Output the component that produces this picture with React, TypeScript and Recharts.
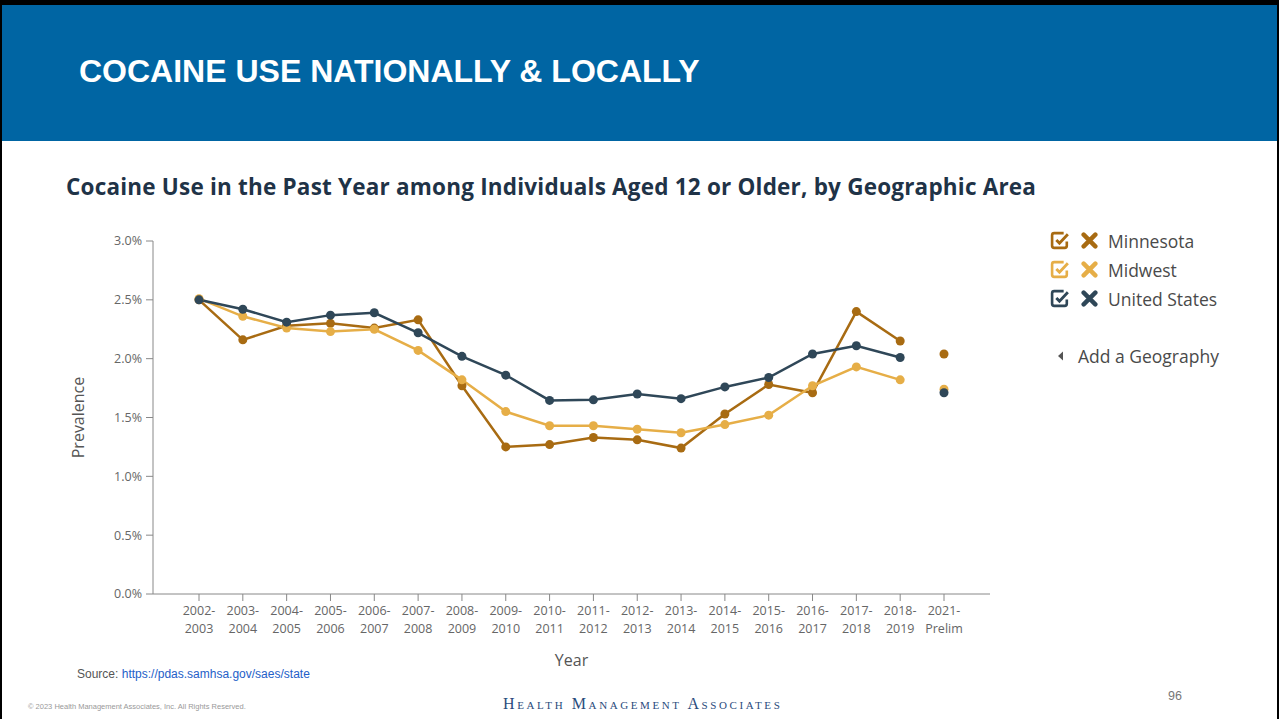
import React from "react";
import { LineChart, Line, XAxis, YAxis } from "recharts";

// survey periods on the x axis
const years = [
  "2002-2003", "2003-2004", "2004-2005", "2005-2006", "2006-2007", "2007-2008",
  "2008-2009", "2009-2010", "2010-2011", "2011-2012", "2012-2013", "2013-2014",
  "2014-2015", "2015-2016", "2016-2017", "2017-2018", "2018-2019", "2021-Prelim",
];

// annual prevalence (%) 2002-2003 .. 2018-2019
const minnesota = [2.5, 2.16, 2.28, 2.3, 2.26, 2.33, 1.77, 1.25, 1.27, 1.33, 1.31, 1.24, 1.53, 1.78, 1.71, 2.4, 2.15];
const midwest = [2.51, 2.36, 2.26, 2.23, 2.25, 2.07, 1.82, 1.55, 1.43, 1.43, 1.4, 1.37, 1.44, 1.52, 1.77, 1.93, 1.82];
const unitedStates = [2.5, 2.42, 2.31, 2.37, 2.39, 2.22, 2.02, 1.86, 1.645, 1.65, 1.7, 1.66, 1.76, 1.84, 2.04, 2.11, 2.01];

// 2021 preliminary estimates, not joined to the trend line
const prelimMinnesota = 2.04;
const prelimMidwest = 1.74;
const prelimUnitedStates = 1.71;

const yTicks = [0, 0.5, 1, 1.5, 2, 2.5, 3];

const MN = "#a86b12";
const MW = "#e6ae47";
const US = "#2f4758";

const last = years.length - 1;
const data = years.map((year, i) => ({
  year,
  mn: minnesota[i] ?? null,
  mw: midwest[i] ?? null,
  us: unitedStates[i] ?? null,
  mnP: i === last ? prelimMinnesota : null,
  mwP: i === last ? prelimMidwest : null,
  usP: i === last ? prelimUnitedStates : null,
}));

const FONT = "'Open Sans', sans-serif";

function XTick({ x, y, payload }: any) {
  const v: string = payload.value;
  const i = v.indexOf("-");
  return (
    <text x={x} textAnchor="middle" fill="#666" fontSize={12.5} fontFamily={FONT}>
      <tspan x={x} y={y + 12}>{v.slice(0, i + 1)}</tspan>
      <tspan x={x} y={y + 30}>{v.slice(i + 1)}</tspan>
    </text>
  );
}

function Box({ color }: { color: string }) {
  return (
    <svg width={21} height={19} viewBox="0 0 20 18" style={{ marginRight: 10 }}>
      <path d="M13 2 H4 Q2 2 2 4 V14 Q2 16 4 16 H14 Q16 16 16 14 V10" fill="none" stroke={color} strokeWidth={2.5} />
      <path d="M6 8.5 L9 11.5 L17 3" fill="none" stroke={color} strokeWidth={2.7} />
    </svg>
  );
}

function Cross({ color }: { color: string }) {
  return (
    <svg width={17} height={17} viewBox="0 0 16 16" style={{ marginRight: 10 }}>
      <path d="M2.5 2.5 L13.5 13.5 M13.5 2.5 L2.5 13.5" stroke={color} strokeWidth={4.2} strokeLinecap="round" />
    </svg>
  );
}

const legendItems = [
  { name: "Minnesota", color: MN },
  { name: "Midwest", color: MW },
  { name: "United States", color: US },
];

function LegendBox() {
  return (
    <div style={{ fontFamily: FONT, fontSize: 17.5, color: "#4a4a4a" }}>
      {legendItems.map((it) => (
        <div key={it.name} style={{ display: "flex", alignItems: "center", height: 29 }}>
          <Box color={it.color} />
          <Cross color={it.color} />
          <span>{it.name}</span>
        </div>
      ))}
      <div style={{ display: "flex", alignItems: "center", height: 29, marginTop: 28 }}>
        <svg width={10} height={12} viewBox="0 0 10 12" style={{ marginLeft: 6, marginRight: 12 }}>
          <path d="M7 1.5 L2 6 L7 10.5 Z" fill="#555" />
        </svg>
        <span>Add a Geography</span>
      </div>
    </div>
  );
}

export default function App() {
  return (
    <div
      style={{
        position: "absolute",
        left: 0,
        top: 0,
        width: 1279,
        height: 719,
        background: "#fff",
        overflow: "hidden",
        boxSizing: "border-box",
        borderTop: "5px solid #000",
        borderLeft: "2px solid #000",
        borderRight: "2px solid #000",
      }}
    >
      <div
        style={{
          position: "absolute",
          left: 0,
          top: 0,
          right: 0,
          height: 136,
          background: "#0065a3",
        }}
      >
        <div
          style={{
            position: "absolute",
            left: 77,
            top: 48,
            color: "#fff",
            fontFamily: "'Liberation Sans', Arial, sans-serif",
            fontWeight: 700,
            fontSize: 32,
            lineHeight: "36px",
            whiteSpace: "nowrap",
          }}
        >
          COCAINE USE NATIONALLY &amp; LOCALLY
        </div>
      </div>

      <div
        style={{
          position: "absolute",
          left: 64,
          top: 167,
          color: "#1f3347",
          fontFamily: FONT,
          fontWeight: 700,
          fontSize: 22.5,
          letterSpacing: 0.2,
          lineHeight: "30px",
          whiteSpace: "nowrap",
        }}
      >
        Cocaine Use in the Past Year among Individuals Aged 12 or Older, by Geographic Area
      </div>

      <div style={{ position: "absolute", left: 1048, top: 221 }}>
        <LegendBox />
      </div>

      <div style={{ position: "absolute", left: -4, top: 216 }}>
        <LineChart width={1279} height={458} data={data} margin={{ top: 20, right: 287, bottom: 0, left: 0 }}>
          <XAxis
            dataKey="year"
            padding={{ left: 46, right: 46 }}
            stroke="#888"
            tickSize={7}
            tick={<XTick />}
            interval={0}
            height={85}
            label={{ value: "Year", position: "insideBottom", offset: 13, fill: "#555", fontSize: 16, fontFamily: FONT }}
          />
          <YAxis
            domain={[0, 3]}
            ticks={yTicks}
            width={155}
            stroke="#888"
            tickSize={7}
            tickMargin={4}
            tick={{ fill: "#666", fontSize: 12.5, fontFamily: FONT }}
            tickFormatter={(v: number) => `${v.toFixed(1)}%`}
            label={{
              value: "Prevalence",
              angle: -90,
              position: "insideLeft",
              offset: 80,
              fill: "#555",
              fontSize: 16,
              fontFamily: FONT,
              style: { textAnchor: "middle" },
            }}
          />
          <Line dataKey="mn" stroke={MN} strokeWidth={2.5} dot={{ r: 4.5, fill: MN, stroke: MN, strokeWidth: 0 }} isAnimationActive={false} />
          <Line dataKey="mw" stroke={MW} strokeWidth={2.5} dot={{ r: 4.5, fill: MW, stroke: MW, strokeWidth: 0 }} isAnimationActive={false} />
          <Line dataKey="us" stroke={US} strokeWidth={2.5} dot={{ r: 4.5, fill: US, stroke: US, strokeWidth: 0 }} isAnimationActive={false} />
          <Line dataKey="mnP" stroke={MN} strokeWidth={0} dot={{ r: 4.5, fill: MN, stroke: MN, strokeWidth: 0 }} isAnimationActive={false} />
          <Line dataKey="mwP" stroke={MW} strokeWidth={0} dot={{ r: 4.5, fill: MW, stroke: MW, strokeWidth: 0 }} isAnimationActive={false} />
          <Line dataKey="usP" stroke={US} strokeWidth={0} dot={{ r: 4.5, fill: US, stroke: US, strokeWidth: 0 }} isAnimationActive={false} />
        </LineChart>
      </div>

      <div
        style={{
          position: "absolute",
          left: 75,
          top: 662,
          fontFamily: "'Liberation Sans', Arial, sans-serif",
          fontSize: 12,
          color: "#555",
          whiteSpace: "nowrap",
        }}
      >
        Source: <span style={{ color: "#2460c8" }}>https://pdas.samhsa.gov/saes/state</span>
      </div>
      <div
        style={{
          position: "absolute",
          left: 26,
          top: 697,
          fontFamily: "'Liberation Sans', Arial, sans-serif",
          fontSize: 7.5,
          color: "#999",
          whiteSpace: "nowrap",
        }}
      >
        © 2023 Health Management Associates, Inc. All Rights Reserved.
      </div>
      <div
        style={{
          position: "absolute",
          left: 501,
          top: 690,
          fontFamily: "'Liberation Serif', 'DejaVu Serif', serif",
          fontSize: 16,
          fontVariant: "small-caps",
          letterSpacing: 2.6,
          color: "#2a4b7c",
          whiteSpace: "nowrap",
        }}
      >
        Health Management Associates
      </div>
      <div
        style={{
          position: "absolute",
          left: 1166,
          top: 684,
          fontFamily: "'Liberation Sans', Arial, sans-serif",
          fontSize: 12.5,
          color: "#777",
        }}
      >
        96
      </div>
    </div>
  );
}
